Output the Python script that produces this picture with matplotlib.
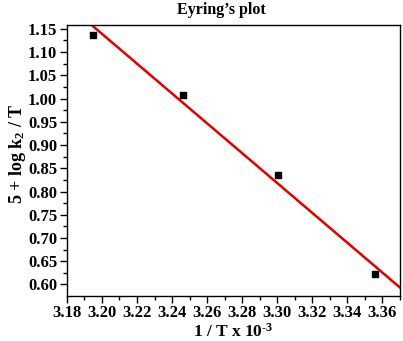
import numpy as np
import matplotlib
matplotlib.use("Agg")
import matplotlib.pyplot as plt
from matplotlib.ticker import MultipleLocator, FormatStrFormatter

# Eyring plot data
inv_T = [3.195, 3.2465, 3.3004, 3.3556]
log_k = [1.137, 1.0077, 0.835, 0.622]

plt.rcParams['font.family'] = ['Liberation Serif', 'DejaVu Serif']
plt.rcParams['font.weight'] = 'bold'
plt.rcParams['mathtext.fontset'] = 'custom'
plt.rcParams['mathtext.rm'] = 'Liberation Serif:bold'
plt.rcParams['mathtext.it'] = 'Liberation Serif:bold'
plt.rcParams['mathtext.bf'] = 'Liberation Serif:bold'

fig = plt.figure(figsize=(4.03, 3.41), dpi=100)
ax = fig.add_axes([0.166, 0.133, 0.8266, 0.794])

ax.scatter(inv_T, log_k, marker='s', s=17, color='black', zorder=3)

# linear fit
slope, icpt = np.polyfit(inv_T, log_k, 1)
xs = np.array([3.18, 3.37])
ax.plot(xs, slope * xs + icpt, color='#e00000', lw=1.8, zorder=2)

ax.set_xlim(3.18, 3.37)
ax.set_ylim(0.576, 1.1585)
ax.xaxis.set_major_locator(MultipleLocator(0.02))
ax.xaxis.set_minor_locator(MultipleLocator(0.01))
ax.yaxis.set_major_locator(MultipleLocator(0.05))
ax.yaxis.set_minor_locator(MultipleLocator(0.025))
ax.xaxis.set_major_formatter(FormatStrFormatter('%.2f'))
ax.yaxis.set_major_formatter(FormatStrFormatter('%.2f'))
ax.tick_params(which='both', direction='out', top=False, right=False, labelsize=12, pad=2)
ax.tick_params(which='major', length=5, width=1)
ax.tick_params(which='minor', length=3, width=1)
for sp in ax.spines.values():
    sp.set_linewidth(1)

ax.set_xlabel(r'1 / T x 10$^{\text{-3}}$', fontsize=12.5, fontweight='bold', labelpad=1)
ax.set_ylabel(r'5 + log k$_{2}$ / T', fontsize=13, fontweight='bold')
ax.yaxis.set_label_coords(-0.118, 0.524)
fig.text(221 / 403, 1 - 10 / 341, "Eyring\u2019s plot", ha='center', va='center',
         fontsize=11.5, fontweight='bold')

fig.savefig('out.png', dpi=100)
